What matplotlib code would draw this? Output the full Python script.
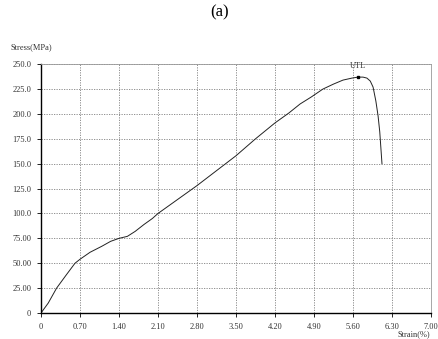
import numpy as np
from matplotlib import pyplot as plt

plt.rcParams['font.family'] = ['Liberation Serif', 'DejaVu Serif']

# curve
strain = [0, 0.13, 0.28, 0.45, 0.61, 0.70, 0.88, 1.09, 1.25, 1.40, 1.55,
          1.69, 1.85, 2.00, 2.10, 2.45, 2.80, 3.15, 3.50, 3.85, 4.20, 4.45,
          4.65, 4.85, 5.06, 5.25, 5.42, 5.58, 5.69, 5.78, 5.85, 5.91, 5.96,
          6.01, 6.05, 6.08, 6.10, 6.12]
stress = [0, 10, 25, 38, 50, 54, 61, 67, 72, 75, 77,
          82, 89, 95, 100, 114, 128, 143, 158, 175, 191, 201,
          210, 217, 225, 230, 234, 236, 237, 237, 236, 233, 227,
          213, 198, 182, 166, 150]

utl_x, utl_y = 5.69, 237

xticks = [0, 0.7, 1.4, 2.1, 2.8, 3.5, 4.2, 4.9, 5.6, 6.3, 7.0]
xlabels = ["0", "0.70", "1.40", "2.10", "2.80", "3.50", "4.20", "4.90",
           "5.60", "6.30", "7.00"]
yticks = [0, 25, 50, 75, 100, 125, 150, 175, 200, 225, 250]
ylabels = ["0", "25.00", "50.00", "75.00", "100.0", "125.0", "150.0",
           "175.0", "200.0", "225.0", "250.0"]

fig = plt.figure(figsize=(4.39, 3.39), dpi=100)
ax = fig.add_axes([0.0934, 0.0767, 0.8884, 0.734])

ax.plot(strain, stress, color="#222222", lw=0.7)
ax.plot([utl_x], [utl_y], "s", color="black", ms=1.8)
ax.text(utl_x, utl_y + 7, "UTL", ha="center", va="bottom", fontsize=6,
        color="#333333")

ax.set_xlim(0, 7.0)
ax.set_ylim(0, 250)
ax.set_xticks(xticks)
ax.set_xticklabels(xlabels)
ax.set_yticks(yticks)
ax.set_yticklabels(ylabels)
ax.tick_params(labelsize=6, length=3, width=0.6, colors="black",
               labelcolor="#333333", pad=4)
ax.grid(True, color="#808080", ls=(0, (1.5, 1.5)), lw=0.6)

for s in ["left", "bottom"]:
    ax.spines[s].set_color("black")
    ax.spines[s].set_linewidth(1.0)
for s in ["top", "right"]:
    ax.spines[s].set_color("#999999")
    ax.spines[s].set_linewidth(0.6)

fig.text(0.5, 0.962, "(a)", ha="center", va="center", fontsize=12)
fig.text(0.025, 0.862, "Stress(MPa)", ha="left", va="center", fontsize=6,
         color="#333333")
fig.text(0.905, 0.003, "Strain(%)", ha="left", va="bottom", fontsize=6,
         color="#333333")

fig.savefig("out.png", dpi=100)
